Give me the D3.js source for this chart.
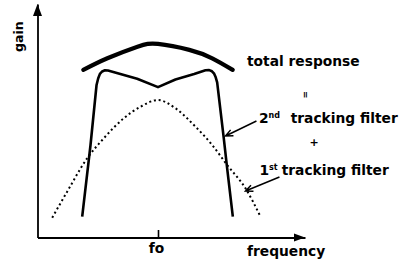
<!DOCTYPE html>
<html><head><meta charset="utf-8">
<script src="https://cdn.jsdelivr.net/npm/d3@7"></script>
<style>body{margin:0;background:#fff}svg{display:block;background:#fff}</style>
</head><body>
<svg id="c" width="406" height="264"></svg>
<script>
// ---- data (relative frequency units, fo = 100; relative gain units) ----
const freqTotal = [38, 58, 83, 100, 126, 145, 162];
const gainTotal = [83.8, 89.6, 95.4, 96.8, 93.8, 89.6, 83.8];

const freq2nd = [37.1, 44, 49, 50.4, 51.8, 53.6, 56, 58.5, 82.7, 100, 114.5, 130, 139.4, 142.5, 144.8, 146.6, 147.9, 149.1, 154.6, 157.4, 162.1];
const gain2nd = [10.4, 46.25, 76.25, 79.6, 81.8, 83.0, 83.6, 83.5, 79.4, 75.2, 79.0, 81.7, 83.6, 83.7, 83.1, 81.9, 80.1, 77.6, 49.6, 34.6, 10.4];

const freq1st = [12.2, 24.6, 41.2, 55, 71.6, 85.5, 100, 114.5, 131.1, 145, 157.4, 172.6, 185.1];
const gain1st = [9.9, 22.9, 39.6, 49.6, 59.6, 65.4, 68.75, 64.6, 55.4, 46.25, 36.25, 24.6, 10.4];

const fo = 100;
const tickValues = [fo];
const tickLabels = ["fo"];
const axisTitles = ["frequency", "gain"];

// annotation arrows [fromFreq, fromGain, toFreq, toGain]
const arrow2nd = [181.7, 58.25, 156, 50.75];
const arrow1st = [200.8, 30.25, 172.6, 23.25];

// ---- drawing ----
const FONT = "'DejaVu Sans', Verdana, sans-serif";
const FS = 13.8;
const svg = d3.select("#c");
const x = d3.scaleLinear().domain([0, 222]).range([37.5, 305]);
const y = d3.scaleLinear().domain([0, 116.75]).range([237.5, 4]);

// x axis
const xAxis = d3.axisBottom(x).tickValues(tickValues)
  .tickFormat((d, i) => tickLabels[i]).tickSizeInner(-7.5).tickSizeOuter(0).tickPadding(5.5);
const gx = svg.append("g").attr("transform", `translate(0,${y(0)})`).call(xAxis);
gx.select(".domain").attr("stroke", "#000").attr("stroke-width", 1.8);
gx.selectAll(".tick line").attr("stroke", "#000").attr("stroke-width", 1.6);
gx.selectAll(".tick text").attr("fill", "#000").attr("font-family", FONT)
  .attr("font-size", FS).attr("font-weight", "bold").attr("dx", -2);

// y axis
const yAxis = d3.axisLeft(y).tickValues([]).tickSizeOuter(0);
const gy = svg.append("g").attr("transform", `translate(${x(0)},0)`).call(yAxis);
gy.select(".domain").attr("stroke", "#000").attr("stroke-width", 1.8);

// axis arrowheads
const xt = x.range()[1], y0 = y(0);
svg.append("path").attr("d", `M${xt},${y0}L${xt - 11},${y0 - 4}L${xt - 11},${y0 + 4}Z`).attr("fill", "#000");
const yt = y.range()[1], x0 = x(0);
svg.append("path").attr("d", `M${x0},${yt}L${x0 - 4.5},${yt + 12}L${x0 + 4.5},${yt + 12}Z`).attr("fill", "#000");

// curves
const zip = (a, b) => a.map((v, i) => [v, b[i]]);
const lineOf = c => d3.line().x(d => x(d[0])).y(d => y(d[1])).curve(c);

svg.append("path").attr("d", lineOf(d3.curveMonotoneX)(zip(freq1st, gain1st)))
  .attr("fill", "none").attr("stroke", "#000").attr("stroke-width", 2)
  .attr("stroke-dasharray", "2,2.8");

svg.append("path").attr("d", lineOf(d3.curveLinear)(zip(freq2nd, gain2nd)))
  .attr("fill", "none").attr("stroke", "#000").attr("stroke-width", 2.6)
  .attr("stroke-linejoin", "round");

svg.append("path").attr("d", lineOf(d3.curveNatural)(zip(freqTotal, gainTotal)))
  .attr("fill", "none").attr("stroke", "#000").attr("stroke-width", 4.2)
  .attr("stroke-linecap", "round");

// annotation arrows (open V heads)
function drawArrow(a) {
  const x1 = x(a[0]), y1 = y(a[1]), x2 = x(a[2]), y2 = y(a[3]);
  const ang = Math.atan2(y2 - y1, x2 - x1);
  const L = 8, spread = 0.42;
  const h1 = [x2 - L * Math.cos(ang - spread), y2 - L * Math.sin(ang - spread)];
  const h2 = [x2 - L * Math.cos(ang + spread), y2 - L * Math.sin(ang + spread)];
  svg.append("path")
    .attr("d", `M${x1},${y1}L${x2},${y2}M${h1[0]},${h1[1]}L${x2},${y2}L${h2[0]},${h2[1]}`)
    .attr("fill", "none").attr("stroke", "#000").attr("stroke-width", 1.5);
}
drawArrow(arrow2nd);
drawArrow(arrow1st);

// labels
function label(tx, ty, txt, size) {
  return svg.append("text").attr("x", tx).attr("y", ty).text(txt)
    .attr("font-family", FONT).attr("font-size", size || FS).attr("font-weight", "bold").attr("fill", "#000");
}
label(247, 66, "total response");
svg.append("text").attr("transform", "translate(305.5,94.7) rotate(90)").attr("text-anchor", "middle")
  .attr("dy", "0.32em").text("=").attr("font-family", FONT).attr("font-size", 9).attr("font-weight", "bold");

const t2 = svg.append("text").attr("x", 259).attr("y", 122.5)
  .attr("font-family", FONT).attr("font-size", FS).attr("font-weight", "bold");
t2.append("tspan").text("2");
t2.append("tspan").text("nd").attr("font-size", 8).attr("dy", -5);
t2.append("tspan").text("tracking filter").attr("x", 290.7).attr("dy", 5);

svg.append("text").attr("x", 314).attr("y", 142.5).attr("text-anchor", "middle").attr("dy", "0.35em")
  .text("+").attr("font-family", FONT).attr("font-size", 11).attr("font-weight", "bold");

const t1 = svg.append("text").attr("x", 259.5).attr("y", 175)
  .attr("font-family", FONT).attr("font-size", FS).attr("font-weight", "bold");
t1.append("tspan").text("1");
t1.append("tspan").text("st").attr("font-size", 8).attr("dy", -5);
t1.append("tspan").text("tracking filter").attr("x", 281.7).attr("dy", 5);

label(247, 255.5, axisTitles[0]);
svg.append("text").attr("transform", "translate(22.5,36.7) rotate(-90)").attr("text-anchor", "middle")
  .text(axisTitles[1]).attr("font-family", FONT).attr("font-size", 12.5).attr("font-weight", "bold");
</script>
</body></html>
